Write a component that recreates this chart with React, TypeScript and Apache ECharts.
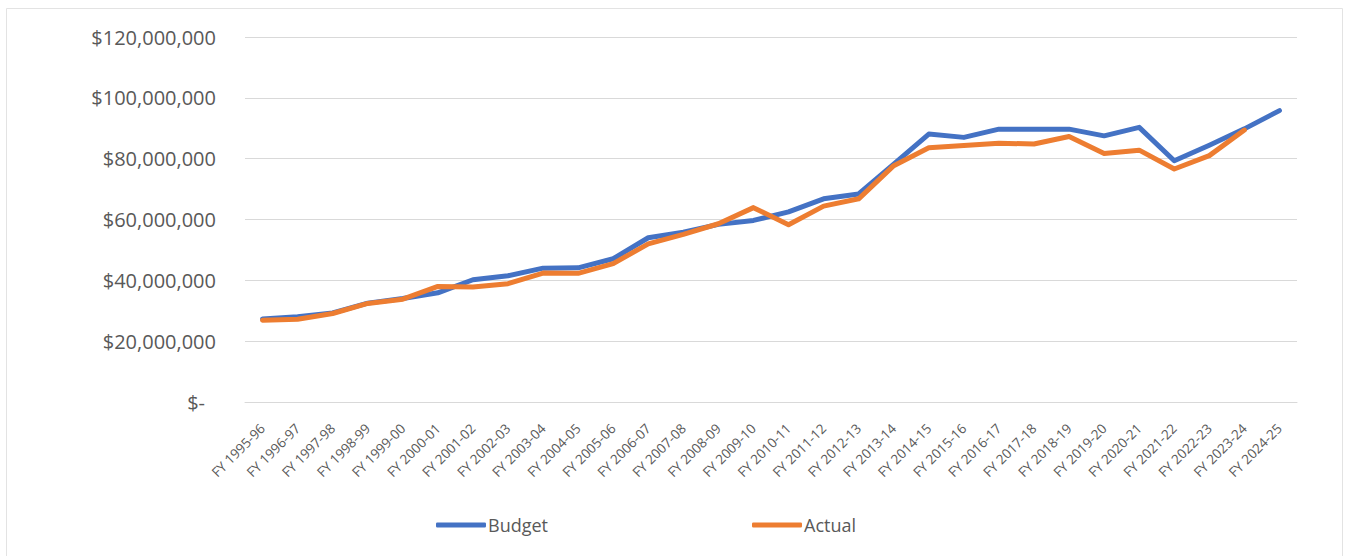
import React, { useEffect, useRef } from "react";
import * as echarts from "echarts";

const categories = [
  "FY 1995-96", "FY 1996-97", "FY 1997-98", "FY 1998-99", "FY 1999-00",
  "FY 2000-01", "FY 2001-02", "FY 2002-03", "FY 2003-04", "FY 2004-05",
  "FY 2005-06", "FY 2006-07", "FY 2007-08", "FY 2008-09", "FY 2009-10",
  "FY 2010-11", "FY 2011-12", "FY 2012-13", "FY 2013-14", "FY 2014-15",
  "FY 2015-16", "FY 2016-17", "FY 2017-18", "FY 2018-19", "FY 2019-20",
  "FY 2020-21", "FY 2021-22", "FY 2022-23", "FY 2023-24", "FY 2024-25",
];

const budget = [
  27300000, 28000000, 29300000, 32500000, 34000000,
  35900000, 40200000, 41500000, 44000000, 44100000,
  47100000, 54000000, 55800000, 58400000, 59700000,
  62500000, 66800000, 68400000, 78200000, 88100000,
  87000000, 89700000, 89700000, 89700000, 87500000,
  90300000, 79300000, 84400000, 89800000, 95800000,
];

const actual = [
  26900000, 27200000, 29100000, 32400000, 33800000,
  38000000, 37800000, 38900000, 42400000, 42300000,
  45500000, 52000000, 55100000, 58600000, 63900000,
  58300000, 64400000, 66800000, 77700000, 83600000,
  84300000, 85100000, 84800000, 87300000, 81700000,
  82800000, 76600000, 81000000, 89400000,
];

const yTicks = { min: 0, max: 120000000, interval: 20000000 };

export default function App() {
  const ref = useRef<HTMLDivElement>(null);
  useEffect(() => {
    if (!ref.current) return;
    const chart = echarts.init(ref.current, null, { renderer: "svg" });
    const font = "'Open Sans', 'Noto Sans', sans-serif";
    const legendText = { color: "#595959", fontSize: 18, fontFamily: font, padding: [0, 0, 0, -3] };
    chart.setOption({
      animation: false,
      backgroundColor: "#ffffff",
      textStyle: { fontFamily: font },
      graphic: [
        {
          type: "rect",
          shape: { x: 6.5, y: 8.5, width: 1336, height: 560 },
          style: { fill: "none", stroke: "#E3E3E3", lineWidth: 1 },
          silent: true,
        },
      ],
      grid: { left: 245, right: 51, top: 37, bottom: 154, containLabel: false },
      legend: [
        {
          data: ["Budget"],
          left: 431,
          top: 511,
          icon: "roundRect",
          itemWidth: 50,
          itemHeight: 5,
          itemGap: 0,
          textStyle: legendText,
        },
        {
          data: ["Actual"],
          left: 747,
          top: 511,
          icon: "roundRect",
          itemWidth: 50,
          itemHeight: 5,
          itemGap: 0,
          textStyle: legendText,
        },
      ],
      xAxis: {
        type: "category",
        data: categories,
        boundaryGap: true,
        axisLine: { show: true, lineStyle: { color: "#D9D9D9", width: 1 } },
        axisTick: { show: false },
        axisLabel: {
          rotate: 45,
          interval: 0,
          color: "#595959",
          fontSize: 13.5,
          margin: 24,
          fontFamily: font,
        },
      },
      yAxis: {
        type: "value",
        min: yTicks.min,
        max: yTicks.max,
        interval: yTicks.interval,
        axisLine: { show: false },
        axisTick: { show: false },
        splitLine: { lineStyle: { color: "#D9D9D9", width: 1 } },
        axisLabel: {
          color: "#595959",
          fontSize: 20,
          margin: 29,
          fontFamily: font,
          formatter: (v: number) =>
            v === 0 ? "{z|$-}" : "$" + v.toLocaleString("en-US"),
          rich: {
            z: { color: "#595959", fontSize: 20, fontFamily: font, padding: [0, 11, 0, 0] },
          },
        },
      },
      series: [
        {
          name: "Budget",
          type: "line",
          data: budget,
          showSymbol: false,
          symbol: "none",
          lineStyle: { color: "#4472C4", width: 5, cap: "round", join: "round" },
          itemStyle: { color: "#4472C4" },
          z: 2,
        },
        {
          name: "Actual",
          type: "line",
          data: actual,
          showSymbol: false,
          symbol: "none",
          lineStyle: { color: "#ED7D31", width: 5, cap: "round", join: "round" },
          itemStyle: { color: "#ED7D31" },
          z: 3,
        },
      ],
    });
    return () => chart.dispose();
  }, []);
  return (
    <div
      ref={ref}
      style={{ position: "fixed", left: 0, top: 0, width: 1348, height: 556, background: "#fff" }}
    />
  );
}
